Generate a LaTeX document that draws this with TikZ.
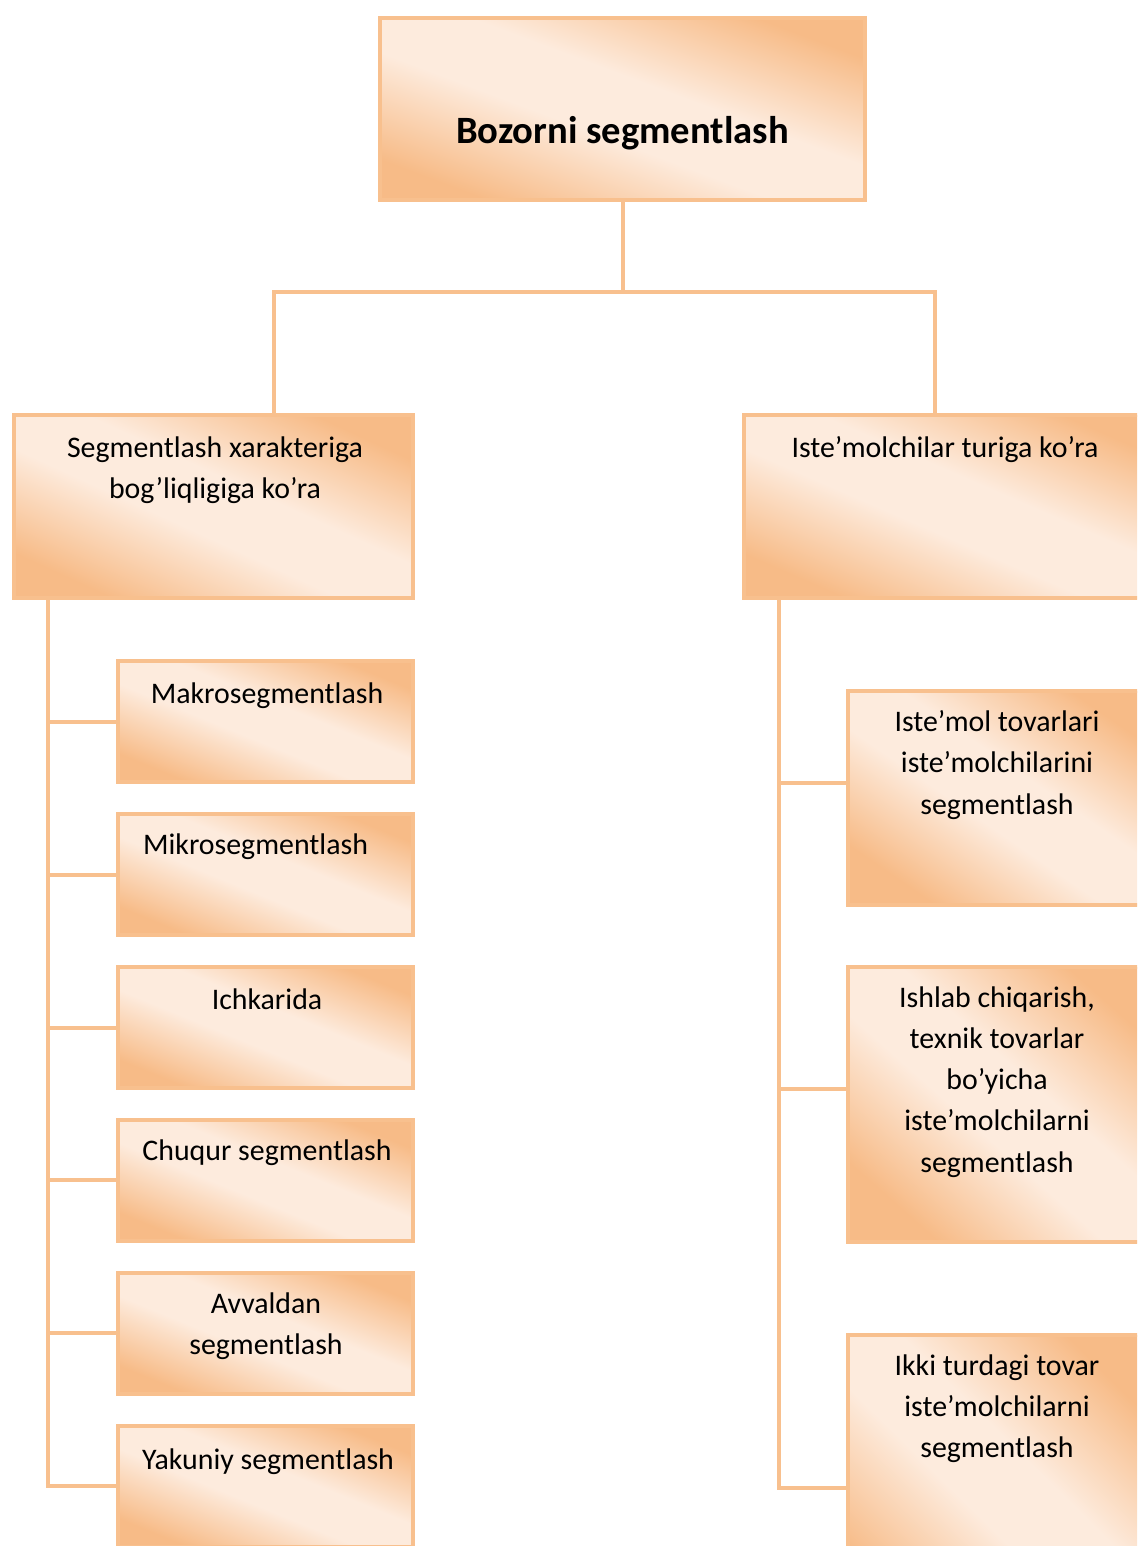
\documentclass[tikz,border=0pt]{standalone}
\usepackage{fontspec}
\setmainfont{Carlito}
\usetikzlibrary{positioning,calc}
\definecolor{edgeorange}{HTML}{F8C08E}
\definecolor{darkpeach}{HTML}{F7BB87}
\definecolor{lightpeach}{HTML}{FDEBDD}
\pgfdeclareverticalshading{peachband}{100bp}{color(0bp)=(darkpeach); color(25bp)=(darkpeach);
  color(44bp)=(lightpeach); color(56bp)=(lightpeach); color(75bp)=(darkpeach); color(100bp)=(darkpeach)}

\tikzset{
  box/.style 2 args={draw=edgeorange, line width=0.08cm, outer sep=0pt, inner sep=0pt,
    minimum width=#1*0.02cm, minimum height=#2*0.02cm,
    shading=peachband, shading angle={-atan(#2/#1)}},
  lbl/.style={anchor=north, inner sep=0pt, align=center, font=\fontsize{17}{23.5}\selectfont},
  link/.style={draw=edgeorange, line width=0.08cm},
}

\begin{document}
\begin{tikzpicture}[x=0.02cm, y=-0.02cm]
  \useasboundingbox (0,0) rectangle (1137,1546);
  \clip (0,0) rectangle (1137,1546);

  % boxes
  \node[box={485}{182}, anchor=north west] (top) at (380,18) {};
  \node[box={399}{183}, anchor=north west] (lft) at (14,415) {};
  \node[box={420}{183}, anchor=north west] (rgt) at (744,415) {};

  \node[box={295}{121}, anchor=north west] (mak) at (118,661) {};
  \node[box={295}{121}, below=0.64cm of mak] (mik) {};
  \node[box={295}{121}, below=0.64cm of mik] (ich) {};
  \node[box={295}{121}, below=0.64cm of ich] (chu) {};
  \node[box={295}{121}, below=0.64cm of chu] (avv) {};
  \node[box={295}{121}, below=0.64cm of avv] (yak) {};

  \node[box={310}{214}, anchor=north west] (ist) at (848,691) {};
  \node[box={310}{275}, anchor=north west] (ish) at (848,967) {};
  \node[box={310}{306}, anchor=north west] (ikk) at (848,1335) {};

  % texts
  \node[inner sep=0pt, font=\fontsize{22}{26}\selectfont\bfseries] (topt) at ([shift={(0,24)}]top.center) {Bozorni segmentlash};
  \node[lbl] (lftt) at ([shift={(1.5,21)}]lft.north) {Segmentlash xarakteriga\\bog’liqligiga ko’ra};
  \node[lbl] (rgtt) at ([shift={(201,21)}]rgt.north west) {Iste’molchilar turiga ko’ra};

  \node[lbl] (makt) at ([shift={(1.5,21)}]mak.north) {Makrosegmentlash};
  \node[lbl] (mikt) at ([shift={(-10,19)}]mik.north) {Mikrosegmentlash};
  \node[lbl] (icht) at ([shift={(1.5,21)}]ich.north) {Ichkarida};
  \node[lbl] (chut) at ([shift={(1.5,19)}]chu.north) {Chuqur segmentlash};
  \node[lbl] (avvt) at ([shift={(0.5,19)}]avv.north) {Avvaldan\\segmentlash};
  \node[lbl] (yakt) at ([shift={(2.5,22)}]yak.north) {Yakuniy segmentlash};

  \node[lbl] (istt) at ([shift={(149,19)}]ist.north west) {Iste’mol tovarlari\\iste’molchilarini\\segmentlash};
  \node[lbl] (isht) at ([shift={(149,19)}]ish.north west) {Ishlab chiqarish,\\texnik tovarlar\\bo’yicha\\iste’molchilarni\\segmentlash};
  \node[lbl] (ikkt) at ([shift={(149,19)}]ikk.north west) {Ikki turdagi tovar\\iste’molchilarni\\segmentlash};

  % connectors
  \draw[link] (top.south) -- ++(0,92) coordinate (fork);
  \draw[link] ([shift={(60.5,0)}]lft.north) |- (fork) -| ([shift={(191,0)}]rgt.north west);

  \coordinate (ltrunk) at ([shift={(34,0)}]lft.south west);
  \draw[link] (ltrunk) |- (yak.west);
  \foreach \b in {mak,mik,ich,chu,avv}
    \draw[link] (\b.west) -- (\b.west -| ltrunk);

  \coordinate (rtrunk) at ([shift={(35,0)}]rgt.south west);
  \draw[link] (rtrunk) |- (ikk.west);
  \draw[link] ([shift={(0,-15)}]ist.west) coordinate (istj) -- (istj -| rtrunk);
  \draw[link] ([shift={(0,-16)}]ish.west) coordinate (ishj) -- (ishj -| rtrunk);
\end{tikzpicture}
\end{document}
